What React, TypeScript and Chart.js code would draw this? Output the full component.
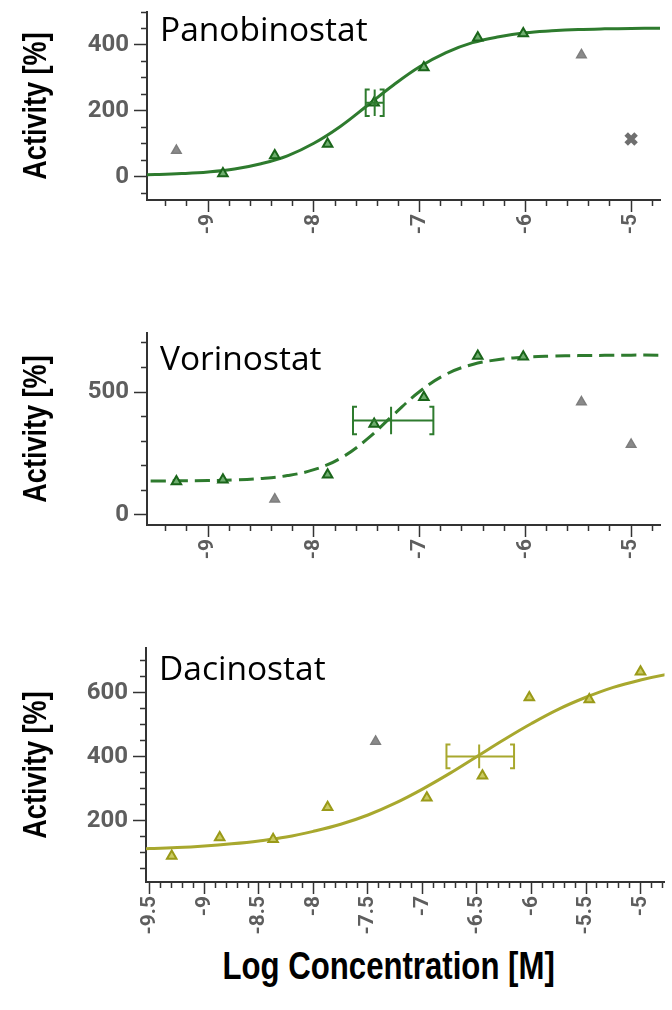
import React, { useEffect, useRef } from 'react';
import { Chart, registerables } from 'chart.js';

Chart.register(...registerables);

// ---------- data ----------
const LOG_CONC = [-9.3, -8.86, -8.37, -7.87, -7.43, -6.96, -6.45, -6.02, -5.47, -5.0];
const CURVE_X = [-9.75, -9.5, -9.25, -9.0, -8.75, -8.5, -8.25, -8.0, -7.75, -7.5, -7.25, -7.0, -6.75, -6.5, -6.25, -6.0, -5.75, -5.5, -5.25, -5.0, -4.75, -4.5];

const PANO_FIT = [null, 10, 65, 100, 225, 332, 422, 435, null, null];
const PANO_EXCLUDED = [80, null, null, null, null, null, null, null, 370, null];
const PANO_OUTLIER = [null, null, null, null, null, null, null, null, null, 115];
const PANO_CURVE = [5, 7, 10, 15, 24, 40, 64, 102, 153, 215, 278, 334, 377, 407, 425, 437, 443, 447, 449, 450, 451, 452];
const PANO_IC50 = [-7.425, -7.51, -7.34, 225, 40]; // centre, low, high, activity, half-height

const VORI_FIT = [136, 143, null, 163, 370, 479, 646, 643, null, null];
const VORI_EXCLUDED = [null, null, 64, null, null, null, null, null, 459, 286];
const VORI_CURVE = [138, 138, 139, 140, 142, 148, 160, 184, 230, 307, 406, 502, 572, 612, 632, 642, 646, 648, 649, 650, 650, 650];
const VORI_IC50 = [-7.27, -7.63, -6.87, 384, 56];

const DACI_FIT = [90, 148, 142, 242, null, 272, 341, 585, 579, 666];
const DACI_EXCLUDED = [null, null, null, null, 448, null, null, null, null, null];
const DACI_CURVE = [111, 113, 116, 121, 128, 137, 149, 167, 189, 218, 255, 299, 348, 401, 454, 504, 549, 586, 617, 640, 658, 672];
const DACI_IC50 = [-6.48, -6.78, -6.16, 401, 37];

const Y_TITLE = 'Activity [%]';
const X_TITLE = 'Log Concentration [M]';

// ---------- styling ----------
const GREEN_LINE = '#2e7b2e';
const GREEN_PT_BORDER = '#1a651a';
const GREEN_PT_FILL = '#6fae6f';
const OLIVE_LINE = '#a8a82e';
const OLIVE_PT_BORDER = '#9a9a18';
const OLIVE_PT_FILL = '#caca62';
const GRAY_PT = '#8a8a8a';
const AXIS = '#333333';
const TICK_TEXT = '#5e5e5e';
const SANS = "'Liberation Sans', Arial, sans-serif";

const toPts = (vals: (number | null)[]) =>
  LOG_CONC.map((x, i) => (vals[i] == null ? null : { x, y: vals[i] as number })).filter(Boolean) as { x: number; y: number }[];
const curvePts = (vals: number[]) => CURVE_X.map((x, i) => ({ x, y: vals[i] }));
const isMult = (v: number, m: number) => Math.abs(v / m - Math.round(v / m)) < 1e-6;
const makeTicks = (min: number, max: number, step: number) => {
  const out: { value: number }[] = [];
  for (let k = Math.ceil(min / step - 1e-9); k * step <= max + 1e-9; k++) {
    out.push({ value: Math.round(k * step * 1000) / 1000 });
  }
  return out;
};

const ic50Plugin = {
  id: 'ic50Bar',
  afterDatasetsDraw(chart: any, _a: any, opts: any) {
    if (!opts || !opts.values) return;
    const { ctx } = chart;
    const x = chart.scales.x;
    const y = chart.scales.y;
    const [c, lo, hi, act, half] = opts.values;
    const px = x.getPixelForValue(c);
    const pl = x.getPixelForValue(lo);
    const ph = x.getPixelForValue(hi);
    const py = y.getPixelForValue(act);
    const pt = y.getPixelForValue(act + half);
    const pb = y.getPixelForValue(act - half);
    const foot = 4;
    ctx.save();
    ctx.strokeStyle = opts.color;
    ctx.lineWidth = 2;
    ctx.beginPath();
    ctx.moveTo(pl, py);
    ctx.lineTo(ph, py);
    ctx.moveTo(px, pt);
    ctx.lineTo(px, pb);
    ctx.moveTo(pl + foot, pt);
    ctx.lineTo(pl, pt);
    ctx.lineTo(pl, pb);
    ctx.lineTo(pl + foot, pb);
    ctx.moveTo(ph - foot, pt);
    ctx.lineTo(ph, pt);
    ctx.lineTo(ph, pb);
    ctx.lineTo(ph - foot, pb);
    ctx.stroke();
    ctx.restore();
  },
};

// panel name inside the plot and a condensed, rotated y-axis title
const textPlugin = {
  id: 'panelText',
  afterDraw(chart: any, _a: any, opts: any) {
    if (!opts || !opts.text) return;
    const { ctx, chartArea } = chart;
    ctx.save();
    ctx.font = "33.5px 'Open Sans', sans-serif";
    ctx.fillStyle = '#000';
    ctx.textBaseline = 'alphabetic';
    ctx.textAlign = 'left';
    ctx.fillText(opts.text, chartArea.left + 13, opts.baseline);
    ctx.restore();

    ctx.save();
    ctx.translate(opts.yTitleX, (chartArea.top + chartArea.bottom) / 2);
    ctx.rotate(-Math.PI / 2);
    ctx.scale(0.82, 1);
    ctx.font = `bold 33px ${SANS}`;
    ctx.fillStyle = '#000';
    ctx.textAlign = 'center';
    ctx.textBaseline = 'middle';
    ctx.fillText(Y_TITLE, 0, 0);
    ctx.restore();
  },
};

type PanelCfg = {
  name: string;
  nameBaseline: number;
  height: number;
  padTop: number;
  padRight: number;
  yWidth: number;
  xHeight: number;
  xMin: number;
  xMax: number;
  xStep: number;
  xMajor: number;
  yMin: number;
  yMax: number;
  yStep: number;
  yMajor: number;
  fit: (number | null)[];
  excluded: (number | null)[];
  outlier?: (number | null)[];
  curve: number[];
  ic50: number[];
  lineColor: string;
  ptBorder: string;
  ptFill: string;
  dashed?: boolean;
};

function Panel({ cfg, top }: { cfg: PanelCfg; top: number }) {
  const ref = useRef<HTMLCanvasElement | null>(null);
  useEffect(() => {
    if (!ref.current) return;
    const datasets: any[] = [
      {
        label: 'fit points',
        data: toPts(cfg.fit),
        pointStyle: 'triangle',
        pointRadius: 5.5,
        pointBorderWidth: 2,
        pointBorderColor: cfg.ptBorder,
        pointBackgroundColor: cfg.ptFill,
        showLine: false,
        order: 0,
      },
      {
        label: 'excluded',
        data: toPts(cfg.excluded),
        pointStyle: 'triangle',
        pointRadius: 5.5,
        pointBorderWidth: 1.5,
        pointBorderColor: '#7e7e7e',
        pointBackgroundColor: GRAY_PT,
        showLine: false,
        order: 0,
      },
      {
        label: 'curve',
        data: curvePts(cfg.curve),
        showLine: true,
        borderColor: cfg.lineColor,
        borderWidth: 3,
        borderDash: cfg.dashed ? [15, 7] : [],
        pointRadius: 0,
        tension: 0.4,
        fill: false,
        order: 2,
      },
    ];
    if (cfg.outlier) {
      datasets.push({
        label: 'outlier',
        data: toPts(cfg.outlier),
        pointStyle: 'crossRot',
        pointRadius: 7,
        pointBorderWidth: 5,
        pointBorderColor: '#6f6f6f',
        showLine: false,
        order: 0,
      });
    }
    const chart = new Chart(ref.current, {
      type: 'scatter',
      data: { datasets },
      plugins: [ic50Plugin, textPlugin],
      options: {
        animation: false,
        responsive: false,
        devicePixelRatio: 1,
        layout: { padding: { top: cfg.padTop, right: cfg.padRight, left: 0, bottom: 0 } },
        plugins: {
          legend: { display: false },
          tooltip: { enabled: false },
          ic50Bar: { values: cfg.ic50, color: cfg.lineColor },
          panelText: { text: cfg.name, baseline: cfg.nameBaseline, yTitleX: 37 },
        } as any,
        scales: {
          x: {
            type: 'linear',
            position: 'bottom',
            min: cfg.xMin,
            max: cfg.xMax,
            bounds: 'data',
            afterBuildTicks: (s: any) => {
              s.ticks = makeTicks(cfg.xMin, cfg.xMax, cfg.xStep);
            },
            afterFit: (s: any) => {
              s.height = cfg.xHeight;
              s.paddingLeft = 0;
              s.paddingRight = 0;
            },
            ticks: {
              autoSkip: false,
              minRotation: 90,
              maxRotation: 90,
              padding: 2,
              color: TICK_TEXT,
              font: { family: 'Roboto', size: 21, weight: 'bold' },
              callback: (v: any) => (isMult(Number(v), cfg.xMajor) ? String(Math.round(Number(v) * 10) / 10) : ''),
            },
            grid: {
              drawOnChartArea: false,
              drawTicks: true,
              tickLength: 12,
              tickColor: AXIS,
              tickWidth: 1.5,
              tickBorderDash: (c: any) => (c.tick && isMult(c.tick.value, cfg.xMajor) ? [] : [5, 100]),
            },
            border: { display: true, color: AXIS, width: 2 },
          },
          y: {
            type: 'linear',
            position: 'left',
            min: cfg.yMin,
            max: cfg.yMax,
            bounds: 'data',
            afterBuildTicks: (s: any) => {
              s.ticks = makeTicks(cfg.yMin, cfg.yMax, cfg.yStep);
            },
            afterFit: (s: any) => {
              s.width = cfg.yWidth;
              s.paddingTop = 0;
              s.paddingBottom = 0;
            },
            ticks: {
              autoSkip: false,
              padding: 5,
              color: TICK_TEXT,
              font: { family: 'Roboto', size: 24, weight: 'bold' },
              callback: (v: any) => (isMult(Number(v), cfg.yMajor) ? String(v) : ''),
            },
            grid: {
              drawOnChartArea: false,
              drawTicks: true,
              tickLength: 13,
              tickColor: AXIS,
              tickWidth: 1.5,
              tickBorderDash: (c: any) => (c.tick && isMult(c.tick.value, cfg.yMajor) ? [] : [0, 7, 5, 100]),
            },
            border: { display: true, color: AXIS, width: 2 },
          },
        },
      } as any,
    });
    return () => chart.destroy();
  }, [cfg]);
  return (
    <canvas
      ref={ref}
      width={672}
      height={cfg.height}
      style={{ position: 'absolute', left: 0, top, width: 672, height: cfg.height, display: 'block' }}
    />
  );
}

const PANELS: { cfg: PanelCfg; top: number }[] = [
  {
    top: 0,
    cfg: {
      name: 'Panobinostat', nameBaseline: 41, height: 245, padTop: 10, padRight: 12, yWidth: 147, xHeight: 45,
      xMin: -9.578, xMax: -4.727, xStep: 0.2, xMajor: 1, yMin: -70, yMax: 500, yStep: 50, yMajor: 200,
      fit: PANO_FIT, excluded: PANO_EXCLUDED, outlier: PANO_OUTLIER, curve: PANO_CURVE, ic50: PANO_IC50,
      lineColor: GREEN_LINE, ptBorder: GREEN_PT_BORDER, ptFill: GREEN_PT_FILL,
    },
  },
  {
    top: 300,
    cfg: {
      name: 'Vorinostat', nameBaseline: 70, height: 270, padTop: 33, padRight: 12, yWidth: 147, xHeight: 45,
      xMin: -9.578, xMax: -4.727, xStep: 0.2, xMajor: 1, yMin: -41, yMax: 740, yStep: 100, yMajor: 500,
      fit: VORI_FIT, excluded: VORI_EXCLUDED, curve: VORI_CURVE, ic50: VORI_IC50,
      lineColor: GREEN_LINE, ptBorder: GREEN_PT_BORDER, ptFill: GREEN_PT_FILL, dashed: true,
    },
  },
  {
    top: 620,
    cfg: {
      name: 'Dacinostat', nameBaseline: 60, height: 317, padTop: 28, padRight: 2, yWidth: 146, xHeight: 55,
      xMin: -9.536, xMax: -4.78, xStep: 0.1, xMajor: 0.5, yMin: 8.5, yMax: 740, yStep: 50, yMajor: 200,
      fit: DACI_FIT, excluded: DACI_EXCLUDED, curve: DACI_CURVE, ic50: DACI_IC50,
      lineColor: OLIVE_LINE, ptBorder: OLIVE_PT_BORDER, ptFill: OLIVE_PT_FILL,
    },
  },
];

export default function App() {
  return (
    <div style={{ position: 'absolute', left: 0, top: 0, width: 672, height: 1010, background: '#fff', overflow: 'hidden' }}>
      {PANELS.map((p) => (
        <Panel key={p.cfg.name} cfg={p.cfg} top={p.top} />
      ))}
      <div
        style={{
          position: 'absolute',
          left: 106,
          top: 944,
          width: 566,
          textAlign: 'center',
          lineHeight: '44px',
          whiteSpace: 'nowrap',
        }}
      >
        <span
          style={{
            display: 'inline-block',
            fontFamily: SANS,
            fontWeight: 'bold',
            fontSize: 38,
            color: '#000',
            transform: 'scaleX(0.82)',
            transformOrigin: '50% 50%',
          }}
        >
          {X_TITLE}
        </span>
      </div>
    </div>
  );
}
